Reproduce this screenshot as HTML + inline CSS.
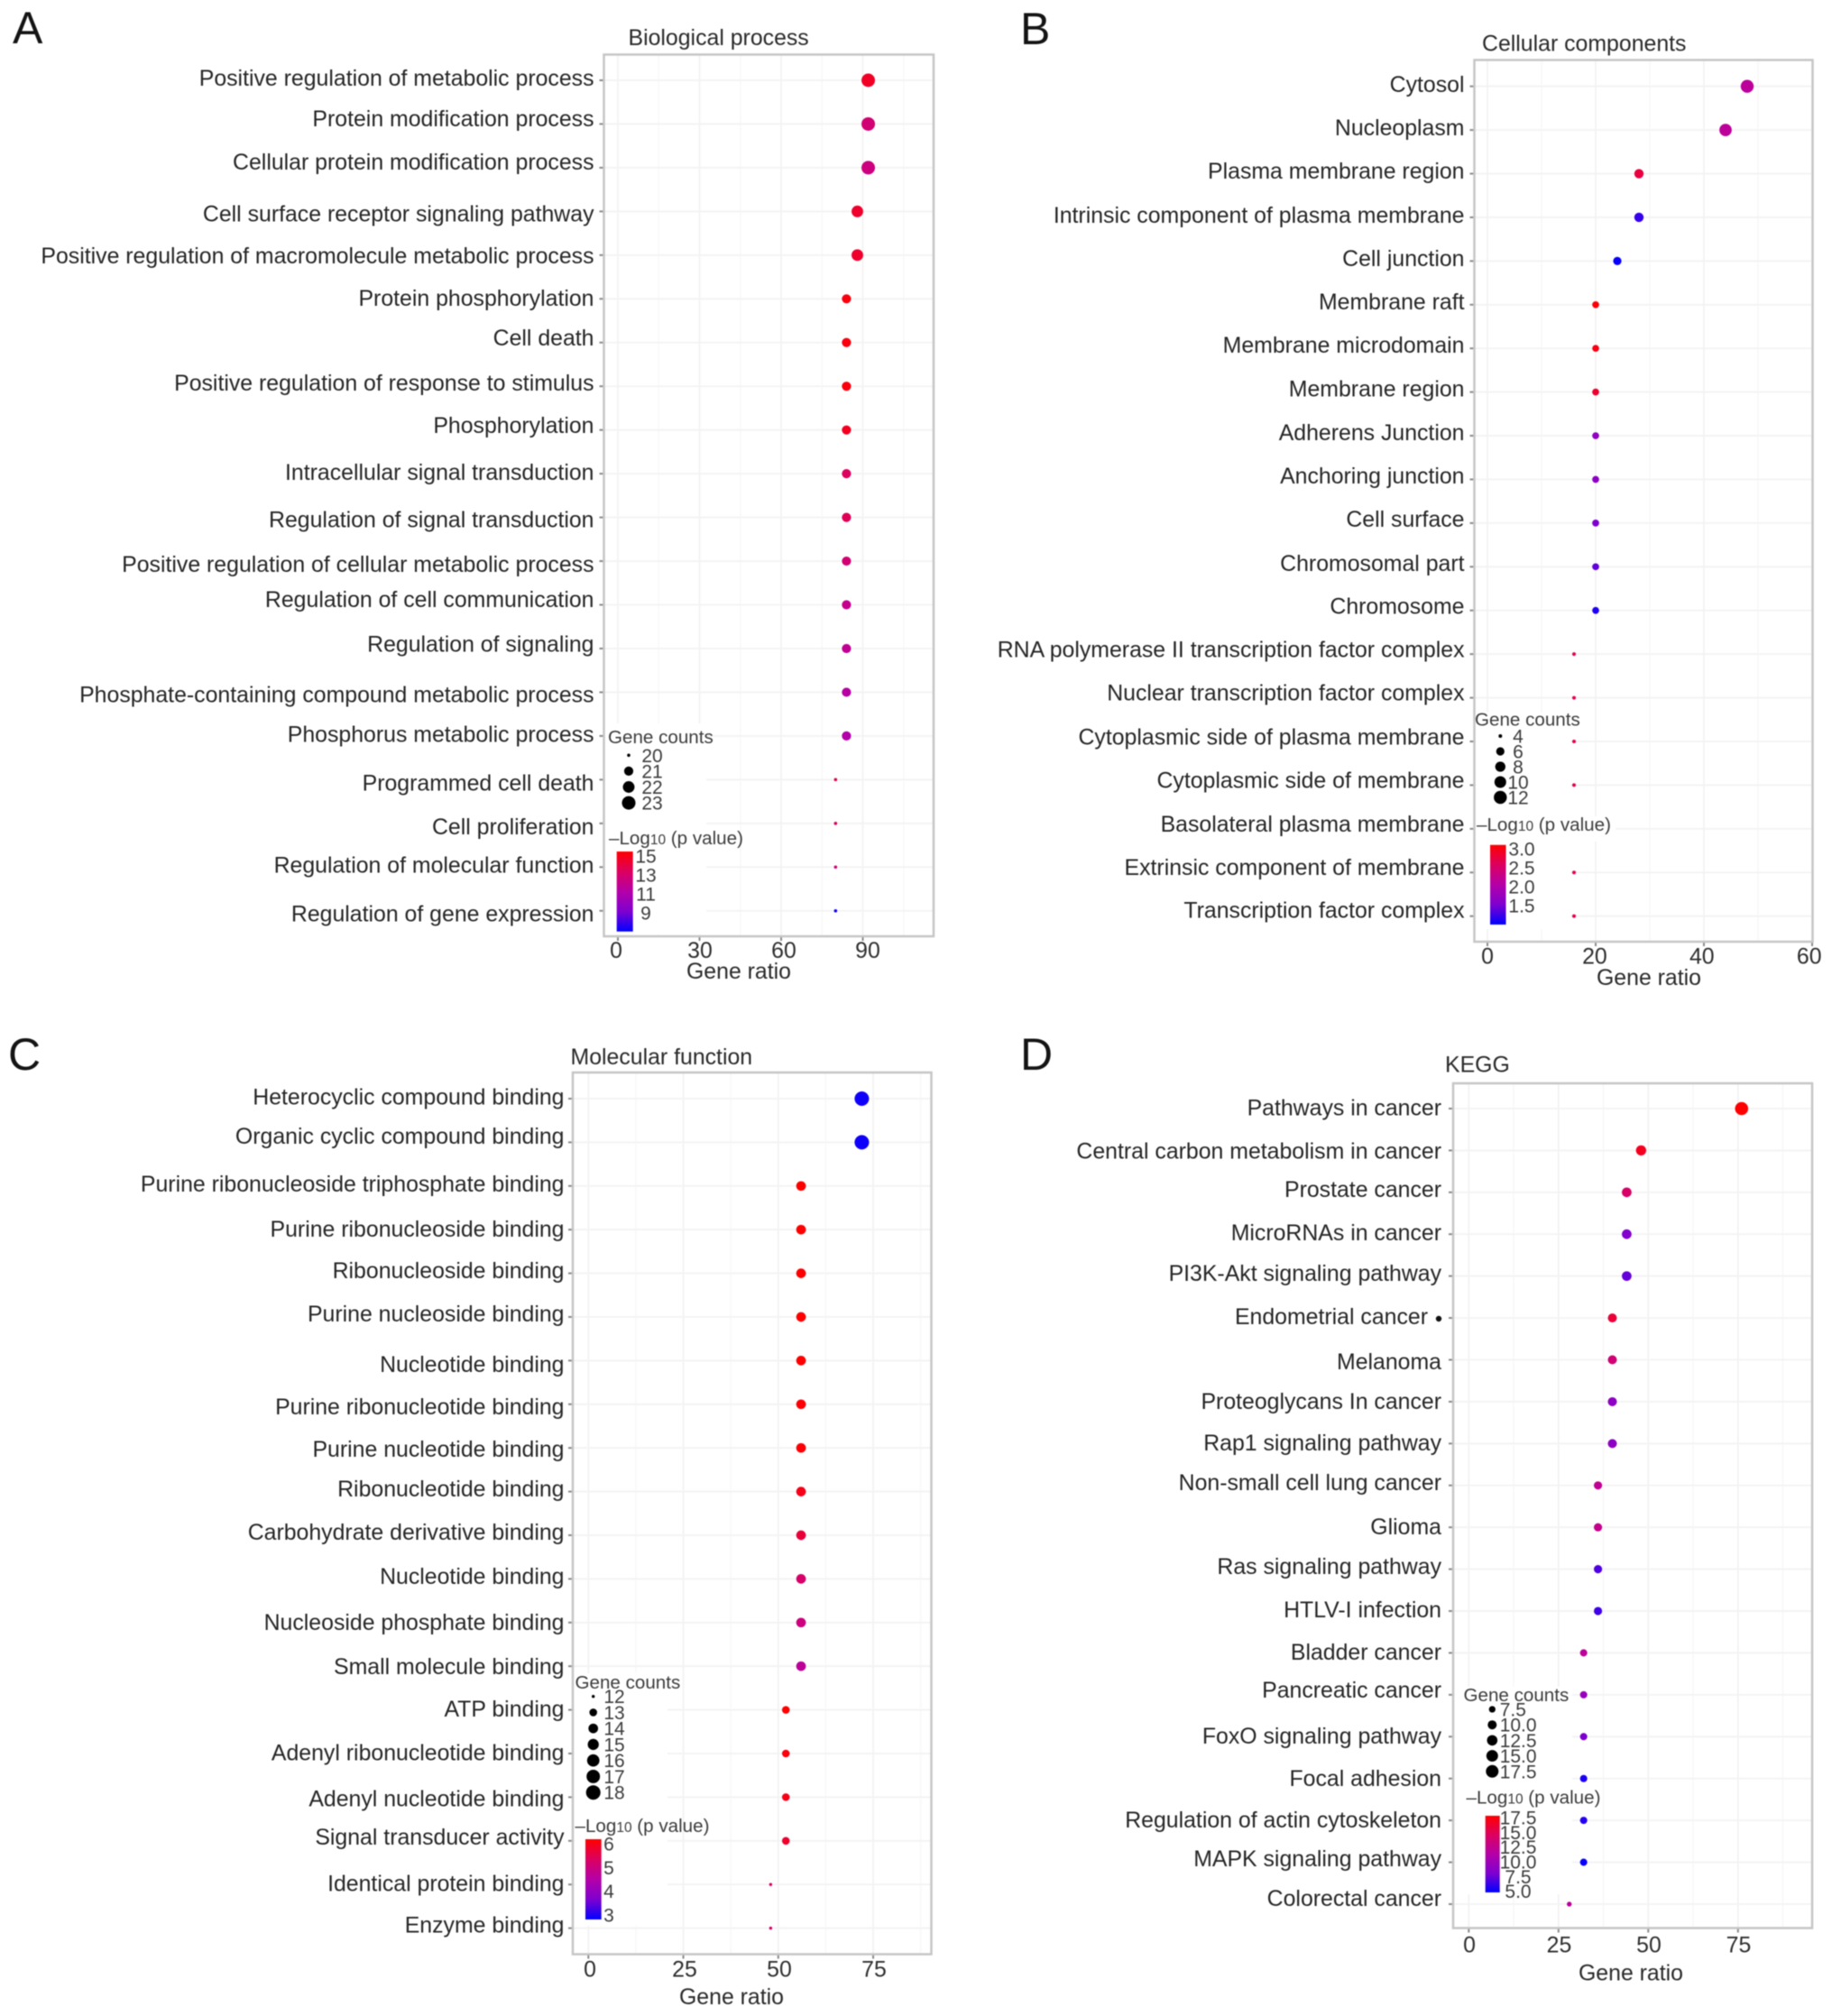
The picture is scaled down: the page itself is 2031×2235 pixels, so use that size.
<!DOCTYPE html>
<html lang="en">
<head>
<meta charset="utf-8">
<title>Gene enrichment bubble charts</title>
<style>
html,body{margin:0;padding:0;background:#fff;}
svg{display:block;filter:blur(.5px);font-family:"Liberation Sans",Arial,sans-serif;}
.cat{font-size:24.85px;fill:#262626;text-anchor:end;}
.ttl{font-size:24.85px;fill:#2a2a2a;}
.lt{font-size:20.6px;fill:#3c3c3c;}
.sub{font-size:15.5px;}
.pl{font-size:50px;fill:#141414;}
.patch{fill:#fff;stroke:none;}
.frame{fill:none;stroke:#c6c6c6;stroke-width:2.5;}
</style>
</head>
<body>
<svg id="figure" xmlns="http://www.w3.org/2000/svg" width="2031" height="2235" viewBox="0 0 2031 2235">
<defs><linearGradient id="pGradient" x1="0" y1="1" x2="0" y2="0"></linearGradient></defs>
<rect x="0" y="0" width="2031" height="2235" fill="#fff"/>

<!-- PANEL A -->
<g>
<g id="a-marks"></g>
<rect class="patch" x="671" y="802" width="112" height="234"/>
<rect class="frame" x="669.5" y="60.5" width="365.5" height="977.5"/>
<g id="a-legend"></g>
<text class="pl" x="14" y="48">A</text>
<text class="ttl" x="696.5" y="50">Biological process</text>
<text class="ttl" x="819" y="1085" text-anchor="middle">Gene ratio</text>
<text class="lt" x="674" y="824">Gene counts</text>
<text class="lt" x="675" y="936">–Log<tspan class="sub">10</tspan> (p value)</text>
<g>
<text class="cat" x="658.5" y="95">Positive regulation of metabolic process</text>
<text class="cat" x="658.5" y="140">Protein modification process</text>
<text class="cat" x="658.5" y="188">Cellular protein modification process</text>
<text class="cat" x="658.5" y="245.5">Cell surface receptor signaling pathway</text>
<text class="cat" x="658.5" y="292">Positive regulation of macromolecule metabolic process</text>
<text class="cat" x="658.5" y="339">Protein phosphorylation</text>
<text class="cat" x="658.5" y="383">Cell death</text>
<text class="cat" x="658.5" y="433">Positive regulation of response to stimulus</text>
<text class="cat" x="658.5" y="480">Phosphorylation</text>
<text class="cat" x="658.5" y="532">Intracellular signal transduction</text>
<text class="cat" x="658.5" y="584.5">Regulation of signal transduction</text>
<text class="cat" x="658.5" y="634">Positive regulation of cellular metabolic process</text>
<text class="cat" x="658.5" y="673">Regulation of cell communication</text>
<text class="cat" x="658.5" y="722.5">Regulation of signaling</text>
<text class="cat" x="658.5" y="778.5">Phosphate-containing compound metabolic process</text>
<text class="cat" x="658.5" y="822.5">Phosphorus metabolic process</text>
<text class="cat" x="658.5" y="876.5">Programmed cell death</text>
<text class="cat" x="658.5" y="925">Cell proliferation</text>
<text class="cat" x="658.5" y="967.5">Regulation of molecular function</text>
<text class="cat" x="658.5" y="1021.5">Regulation of gene expression</text>
</g>
</g>

<!-- PANEL B -->
<g>
<g id="b-marks"></g>
<rect class="patch" x="1636" y="790" width="105" height="240"/>
<rect class="patch" x="1741" y="905" width="50" height="28"/>
<rect class="frame" x="1634.5" y="66.5" width="375" height="977.5"/>
<g id="b-legend"></g>
<text class="pl" x="1131" y="49">B</text>
<text class="ttl" x="1643" y="56.5">Cellular components</text>
<text class="ttl" x="1828" y="1092" text-anchor="middle">Gene ratio</text>
<text class="lt" x="1635" y="804.5">Gene counts</text>
<text class="lt" x="1637" y="921">–Log<tspan class="sub">10</tspan> (p value)</text>
<g>
<text class="cat" x="1623.5" y="102">Cytosol</text>
<text class="cat" x="1623.5" y="150">Nucleoplasm</text>
<text class="cat" x="1623.5" y="198">Plasma membrane region</text>
<text class="cat" x="1623.5" y="247">Intrinsic component of plasma membrane</text>
<text class="cat" x="1623.5" y="295">Cell junction</text>
<text class="cat" x="1623.5" y="343">Membrane raft</text>
<text class="cat" x="1623.5" y="391">Membrane microdomain</text>
<text class="cat" x="1623.5" y="439.5">Membrane region</text>
<text class="cat" x="1623.5" y="488">Adherens Junction</text>
<text class="cat" x="1623.5" y="536">Anchoring junction</text>
<text class="cat" x="1623.5" y="584">Cell surface</text>
<text class="cat" x="1623.5" y="633">Chromosomal part</text>
<text class="cat" x="1623.5" y="680.5">Chromosome</text>
<text class="cat" x="1623.5" y="728.5">RNA polymerase II transcription factor complex</text>
<text class="cat" x="1623.5" y="776.5">Nuclear transcription factor complex</text>
<text class="cat" x="1623.5" y="825.5">Cytoplasmic side of plasma membrane</text>
<text class="cat" x="1623.5" y="873.5">Cytoplasmic side of membrane</text>
<text class="cat" x="1623.5" y="922">Basolateral plasma membrane</text>
<text class="cat" x="1623.5" y="970">Extrinsic component of membrane</text>
<text class="cat" x="1623.5" y="1017.5">Transcription factor complex</text>
</g>
</g>

<!-- PANEL C -->
<g>
<g id="c-marks"></g>
<rect class="patch" x="637" y="1855" width="103" height="280"/>
<rect class="frame" x="635" y="1189" width="397.5" height="977.5"/>
<g id="c-legend"></g>
<text class="pl" x="9" y="1186">C</text>
<text class="ttl" x="632.5" y="1180">Molecular function</text>
<text class="ttl" x="811" y="2222" text-anchor="middle">Gene ratio</text>
<text class="lt" x="637.5" y="1872">Gene counts</text>
<text class="lt" x="637.5" y="2031">–Log<tspan class="sub">10</tspan> (p value)</text>
<g>
<text class="cat" x="625.5" y="1224.5">Heterocyclic compound binding</text>
<text class="cat" x="625.5" y="1268">Organic cyclic compound binding</text>
<text class="cat" x="625.5" y="1321">Purine ribonucleoside triphosphate binding</text>
<text class="cat" x="625.5" y="1371">Purine ribonucleoside binding</text>
<text class="cat" x="625.5" y="1417">Ribonucleoside binding</text>
<text class="cat" x="625.5" y="1465">Purine nucleoside binding</text>
<text class="cat" x="625.5" y="1521">Nucleotide binding</text>
<text class="cat" x="625.5" y="1568">Purine ribonucleotide binding</text>
<text class="cat" x="625.5" y="1615">Purine nucleotide binding</text>
<text class="cat" x="625.5" y="1659">Ribonucleotide binding</text>
<text class="cat" x="625.5" y="1707">Carbohydrate derivative binding</text>
<text class="cat" x="625.5" y="1756">Nucleotide binding</text>
<text class="cat" x="625.5" y="1807">Nucleoside phosphate binding</text>
<text class="cat" x="625.5" y="1856">Small molecule binding</text>
<text class="cat" x="625.5" y="1903">ATP binding</text>
<text class="cat" x="625.5" y="1951.5">Adenyl ribonucleotide binding</text>
<text class="cat" x="625.5" y="2002.5">Adenyl nucleotide binding</text>
<text class="cat" x="625.5" y="2045">Signal transducer activity</text>
<text class="cat" x="625.5" y="2096.5">Identical protein binding</text>
<text class="cat" x="625.5" y="2142.5">Enzyme binding</text>
</g>
</g>

<!-- PANEL D -->
<g>
<g id="d-marks"></g>
<rect class="patch" x="1613" y="1870" width="130" height="230"/>
<rect class="frame" x="1611" y="1201" width="398" height="936.5"/>
<g id="d-legend"></g>
<circle cx="1595" cy="1462" r="3.2" fill="#111"/>
<text class="pl" x="1131" y="1186">D</text>
<text class="ttl" x="1602" y="1188.5">KEGG</text>
<text class="ttl" x="1808" y="2195.5" text-anchor="middle">Gene ratio</text>
<text class="lt" x="1622.5" y="1886">Gene counts</text>
<text class="lt" x="1625.5" y="1999.5">–Log<tspan class="sub">10</tspan> (p value)</text>
<g>
<text class="cat" x="1598" y="1236.5">Pathways in cancer</text>
<text class="cat" x="1598" y="1284.5">Central carbon metabolism in cancer</text>
<text class="cat" x="1598" y="1327">Prostate cancer</text>
<text class="cat" x="1598" y="1375">MicroRNAs in cancer</text>
<text class="cat" x="1598" y="1420">PI3K-Akt signaling pathway</text>
<text class="cat" x="1583" y="1468">Endometrial cancer</text>
<text class="cat" x="1598" y="1518">Melanoma</text>
<text class="cat" x="1598" y="1562">Proteoglycans In cancer</text>
<text class="cat" x="1598" y="1608">Rap1 signaling pathway</text>
<text class="cat" x="1598" y="1652">Non-small cell lung cancer</text>
<text class="cat" x="1598" y="1701">Glioma</text>
<text class="cat" x="1598" y="1745">Ras signaling pathway</text>
<text class="cat" x="1598" y="1793">HTLV-I infection</text>
<text class="cat" x="1598" y="1840">Bladder cancer</text>
<text class="cat" x="1598" y="1882">Pancreatic cancer</text>
<text class="cat" x="1598" y="1933">FoxO signaling pathway</text>
<text class="cat" x="1598" y="1980">Focal adhesion</text>
<text class="cat" x="1598" y="2026">Regulation of actin cytoskeleton</text>
<text class="cat" x="1598" y="2069">MAPK signaling pathway</text>
<text class="cat" x="1598" y="2113">Colorectal cancer</text>
</g>
</g>
</svg>

<script>
// Panel A: Biological process
const bpGeneRatio = [92,92,92,88,88,84,84,84,84,84,84,84,84,84,84,84,80,80,80,80];
const bpGeneCounts = [23,23,23,22,22,21,21,21,21,21,21,21,21,21,21,21,20,20,20,20];
const bpLogP = [14.65,12.8,12.5,14.5,14.5,15.2,15.2,15.2,14.8,13.4,13.6,12.8,12.1,11.9,11.4,11.2,13.8,13.4,12.8,7.3];
const bpXTicks = [0,30,60,90];
const bpSizeLegend = [20,21,22,23];
const bpColorTicks = [15,13,11,9];

// Panel B: Cellular components
const ccGeneRatio = [48,44,28,28,24,20,20,20,20,20,20,20,20,16,16,16,16,16,16,16];
const ccGeneCounts = [12,11,7,7,6,5,5,5,5,5,5,5,5,4,4,4,4,4,4,4];
const ccLogP = [2.15,2.15,2.75,1.22,1.03,3.05,3.0,2.85,1.7,1.65,1.52,1.4,1.12,2.7,2.7,2.7,2.7,2.7,2.7,2.7];
const ccXTicks = [0,20,40,60];
const ccSizeLegend = [4,6,8,10,12];
const ccColorTicks = [3.0,2.5,2.0,1.5];

// Panel C: Molecular function
const mfGeneRatio = [72,72,56,56,56,56,56,56,56,56,56,56,56,56,52,52,52,52,48,48];
const mfGeneCounts = [18,18,14,14,14,14,14,14,14,14,14,14,14,14,13,13,13,13,12,12];
const mfLogP = [2.9,2.9,6.2,6.2,6.2,6.2,6.2,6.15,6.15,6.0,5.7,5.25,5.0,4.7,6.2,6.1,6.0,5.8,5.3,5.3];
const mfXTicks = [0,25,50,75];
const mfSizeLegend = [12,13,14,15,16,17,18];
const mfColorTicks = [6,5,4,3];

// Panel D: KEGG
const keggGeneRatio = [76,48,44,44,44,40,40,40,40,36,36,36,36,32,32,32,32,32,32,28];
const keggGeneCounts = [19,12,11,11,11,10,10,10,10,9,9,9,9,8,8,8,8,8,8,7];
const keggLogP = [17.8,16.8,14.2,8.3,7.4,15.9,13.6,9,9,12.3,12.6,6.8,6.4,12,9.7,8,5.5,5.7,5,12];
const keggXTicks = [0,25,50,75];
const keggSizeLegend = ['7.5','10.0','12.5','15.0','17.5'];
const keggColorTicks = ['17.5','15.0','12.5','10.0','7.5','5.0'];

// Colour ramp (blue to red through magenta)
const rampStops = ['#0000ff','#7f00d0','#b400a8','#dc0060','#ff0000'];

const NS = 'http://www.w3.org/2000/svg';

function make(tag, attrs, parent) {
  const el = document.createElementNS(NS, tag);
  for (const k in attrs) el.setAttribute(k, attrs[k]);
  parent.appendChild(el);
  return el;
}

function hexRgb(h) {
  return [1,3,5].map(i => parseInt(h.substr(i,2),16));
}

function rampColor(t) {
  const c = Math.max(0, Math.min(1, t)) * (rampStops.length - 1);
  const i = Math.min(Math.floor(c), rampStops.length - 2);
  const f = c - i;
  const a = hexRgb(rampStops[i]);
  const b = hexRgb(rampStops[i + 1]);
  return 'rgb(' + a.map((v, k) => Math.round(v + (b[k] - v) * f)).join(',') + ')';
}

const gradient = document.getElementById('pGradient');
rampStops.forEach((col, i) => {
  make('stop', {offset: i / (rampStops.length - 1), 'stop-color': col}, gradient);
});

function drawPanel(cfg) {
  const marks = document.getElementById(cfg.id + '-marks');
  const legend = document.getElementById(cfg.id + '-legend');
  const xScale = v => cfg.x0 + cfg.xPerUnit * v;
  const xLabelScale = v => cfg.labelX0 + cfg.labelPerUnit * v;
  const yScale = i => cfg.y0 + cfg.rowStep * i;
  const rScale = c => cfg.rMin + (cfg.rMax - cfg.rMin) * Math.sqrt(Math.max(0, (+c - cfg.cMin) / (cfg.cMax - cfg.cMin)));
  const tScale = v => (+v - cfg.pMin) / (cfg.pMax - cfg.pMin);
  const barY = v => cfg.barBottom - (cfg.barBottom - cfg.barTop) * tScale(v);

  // vertical grid: majors on ticks, minors halfway between them
  const step = cfg.xTicks[1] - cfg.xTicks[0];
  for (let v = cfg.xTicks[0]; xScale(v) < cfg.right; v += step / 2) {
    const isMajor = cfg.xTicks.indexOf(v) >= 0 || Math.abs(v % step) < 1e-6;
    const line = make('line', {x1: xScale(v), x2: xScale(v), y1: cfg.top, y2: cfg.bottom, stroke: isMajor ? '#f1f1f1' : '#f8f8f8', 'stroke-width': 1.6}, marks);
    
    
  }

  // rows: gridline, axis tick, bubble
  cfg.ratio.forEach((ratio, i) => {
    const y = yScale(i);
    const h = make('line', {x1: cfg.left, x2: cfg.right, y1: y, y2: y, stroke: '#f3f3f3', 'stroke-width': 1.8}, marks);
    
    
    const tick = make('line', {x1: cfg.left - 5, x2: cfg.left - 1, y1: y, y2: y, stroke: '#8a8a8a', 'stroke-width': 2}, marks);
    
    
  });
  cfg.ratio.forEach((ratio, i) => {
    const dot = make('circle', {cx: xScale(ratio), cy: yScale(i), r: rScale(cfg.counts[i]).toFixed(2), fill: rampColor(tScale(cfg.logP[i]))}, marks);
    
    
  });

  // x ticks and their labels
  cfg.xTicks.forEach(v => {
    const tick = make('line', {x1: xScale(v), x2: xScale(v), y1: cfg.bottom + 1, y2: cfg.bottom + 5, stroke: '#8a8a8a', 'stroke-width': 2}, marks);
    
    
    const label = make('text', {x: xLabelScale(v), y: cfg.tickBaseline, 'text-anchor': 'middle', 'font-size': 24.85, fill: '#2e2e2e'}, marks);
    
    
    label.textContent = v;
  });

  // size legend
  cfg.sizeLegend.forEach((c, i) => {
    const y = cfg.sizeTop + cfg.sizeStep * i;
    const swatch = make('circle', {cx: cfg.sizeX, cy: y, r: rScale(c).toFixed(2), fill: '#000'}, legend);
    
    
    const label = make('text', {x: cfg.sizeLabelX, y: y + 7.5, 'text-anchor': cfg.sizeAnchor, 'font-size': 21, fill: '#3c3c3c'}, legend);
    
    
    label.textContent = c;
  });

  // colour bar
  const bar = make('rect', {x: cfg.barX, y: cfg.barTop, width: cfg.barW, height: cfg.barBottom - cfg.barTop, fill: 'url(#pGradient)'}, legend);
  
  
  cfg.colorTicks.forEach(v => {
    const label = make('text', {x: cfg.barLabelX, y: barY(v) + 7.5, 'text-anchor': 'middle', 'font-size': 21, fill: '#3c3c3c'}, legend);
    
    
    label.textContent = v;
  });
}

drawPanel({
  id: 'a', ratio: bpGeneRatio, counts: bpGeneCounts, logP: bpLogP,
  xTicks: bpXTicks, sizeLegend: bpSizeLegend, colorTicks: bpColorTicks,
  left: 669.5, right: 1035, top: 60.5, bottom: 1038,
  x0: 685, xPerUnit: 3.017, labelX0: 683, labelPerUnit: 3.1,
  y0: 89, rowStep: 48.46, tickBaseline: 1062,
  cMin: 20, cMax: 23, rMin: 1.8, rMax: 7.5,
  pMin: 7, pMax: 15.5, barX: 683.7, barW: 18, barTop: 944, barBottom: 1032.7, barLabelX: 716,
  sizeX: 697, sizeTop: 837.3, sizeStep: 17.6, sizeLabelX: 723, sizeAnchor: 'middle'
});

drawPanel({
  id: 'b', ratio: ccGeneRatio, counts: ccGeneCounts, logP: ccLogP,
  xTicks: ccXTicks, sizeLegend: ccSizeLegend, colorTicks: ccColorTicks.map(v => v.toFixed(1)),
  left: 1634.5, right: 2009.5, top: 66.5, bottom: 1044,
  x0: 1649, xPerUnit: 6, labelX0: 1649, labelPerUnit: 5.945,
  y0: 95.7, rowStep: 48.42, tickBaseline: 1068.5,
  cMin: 4, cMax: 12, rMin: 2, rMax: 7.2,
  pMin: 1, pMax: 3.1, barX: 1652, barW: 17.5, barTop: 936.7, barBottom: 1025, barLabelX: 1687,
  sizeX: 1663.3, sizeTop: 816, sizeStep: 17, sizeLabelX: 1683, sizeAnchor: 'middle'
});

drawPanel({
  id: 'c', ratio: mfGeneRatio, counts: mfGeneCounts, logP: mfLogP,
  xTicks: mfXTicks, sizeLegend: mfSizeLegend, colorTicks: mfColorTicks,
  left: 635, right: 1032.5, top: 1189, bottom: 2166.5,
  x0: 652.3, xPerUnit: 4.21, labelX0: 654, labelPerUnit: 4.2,
  y0: 1218, rowStep: 48.4, tickBaseline: 2191.5,
  cMin: 12, cMax: 18, rMin: 1.7, rMax: 8,
  pMin: 2.8, pMax: 6.2, barX: 649, barW: 17.7, barTop: 2039, barBottom: 2128, barLabelX: 675,
  sizeX: 657.7, sizeTop: 1880.7, sizeStep: 17.75, sizeLabelX: 681, sizeAnchor: 'middle'
});

drawPanel({
  id: 'd', ratio: keggGeneRatio, counts: keggGeneCounts, logP: keggLogP,
  xTicks: keggXTicks, sizeLegend: keggSizeLegend, colorTicks: keggColorTicks,
  left: 1611, right: 2009, top: 1201, bottom: 2137.5,
  x0: 1628.3, xPerUnit: 3.98, labelX0: 1629, labelPerUnit: 3.98,
  y0: 1229, rowStep: 46.42, tickBaseline: 2164.5,
  cMin: 7, cMax: 19, rMin: 2.7, rMax: 7.3,
  pMin: 4.8, pMax: 17.8, barX: 1646.7, barW: 16, barTop: 2013, barBottom: 2098, barLabelX: 1683,
  sizeX: 1654.3, sizeTop: 1895, sizeStep: 17.2, sizeLabelX: 1662.7, sizeAnchor: 'start'
});
</script>
</body>
</html>
